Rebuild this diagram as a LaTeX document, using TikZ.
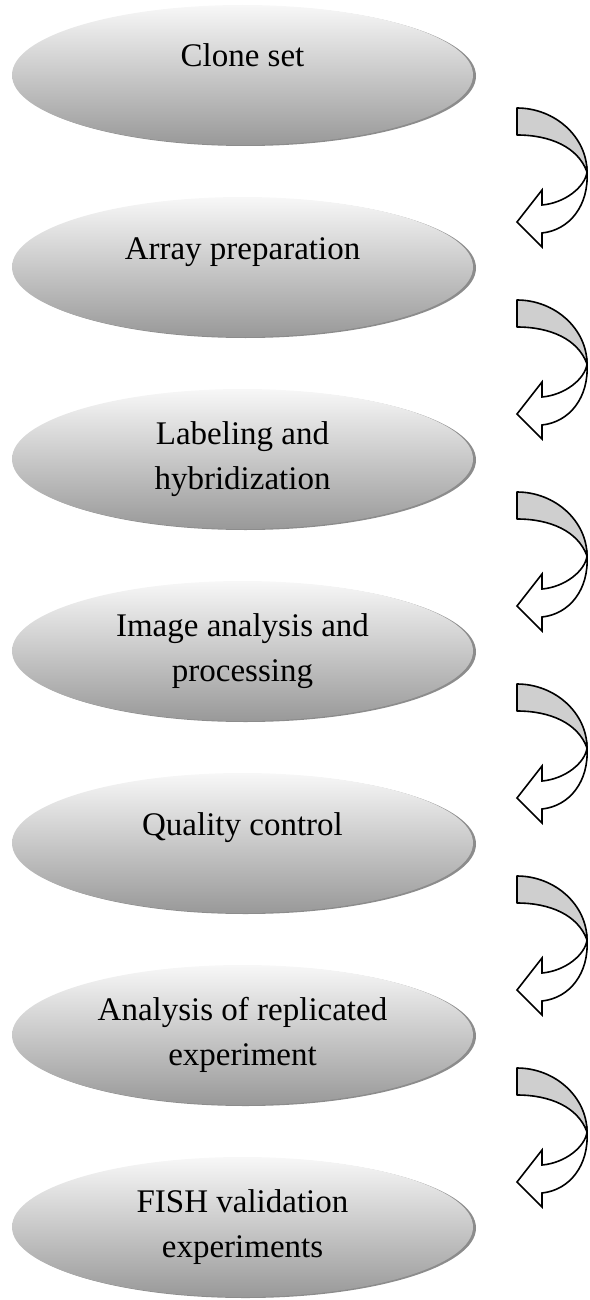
\documentclass[tikz,border=0pt]{standalone}
\usepackage{fontspec}
\setmainfont{Liberation Serif}
\usepackage{tikz}
\usetikzlibrary{shapes,shadows}

\tikzset{
  stage/.style={ellipse, inner sep=0pt, minimum width=461pt, minimum height=140pt,
    top color=black!3, bottom color=black!40, align=center,
    font={\fontsize{33}{45}\selectfont},
    drop shadow={shadow xshift=3pt, shadow yshift=-1pt, fill=black!45, opacity=1}},
  oneline/.style={text height=22pt, text depth=38pt},
  backface/.style={draw=black, line width=1.6pt, fill=black!19, line join=round},
  frontface/.style={draw=black, line width=1.6pt, fill=white, line join=miter}
}

\begin{document}
\begin{tikzpicture}[x=1pt, y=-1pt]
\useasboundingbox (0,0) rectangle (589,1300);
\node[stage, oneline] (s1) at (242.5,75) {Clone set};
\node[stage, oneline] (s2) at (242.5,267) {Array preparation};
\node[stage] (s3) at (242.5,459) {Labeling and\\hybridization};
\node[stage] (s4) at (242.5,651) {Image analysis and\\processing};
\node[stage, oneline] (s5) at (242.5,843) {Quality control};
\node[stage] (s6) at (242.5,1035) {Analysis of replicated\\experiment};
\node[stage] (s7) at (242.5,1227) {FISH validation\\experiments};
\foreach \k in {1,...,6}
{
\begin{scope}[shift={(s\k.center)}]
\draw[backface] (274.5,33) .. controls (312.5,33) and (344.5,62) .. (344.5,97)
  .. controls (335.5,72) and (307.5,60) .. (274.5,60) -- cycle;
\draw[frontface] (344.5,97) .. controls (342.5,112) and (322.5,128) .. (299.5,130)
  -- (299.5,115) -- (274.5,147) -- (299.5,172) -- (299.5,158)
  .. controls (327.5,155) and (346.5,130) .. (344.5,97) -- cycle;
\end{scope}
}
\end{tikzpicture}
\end{document}
